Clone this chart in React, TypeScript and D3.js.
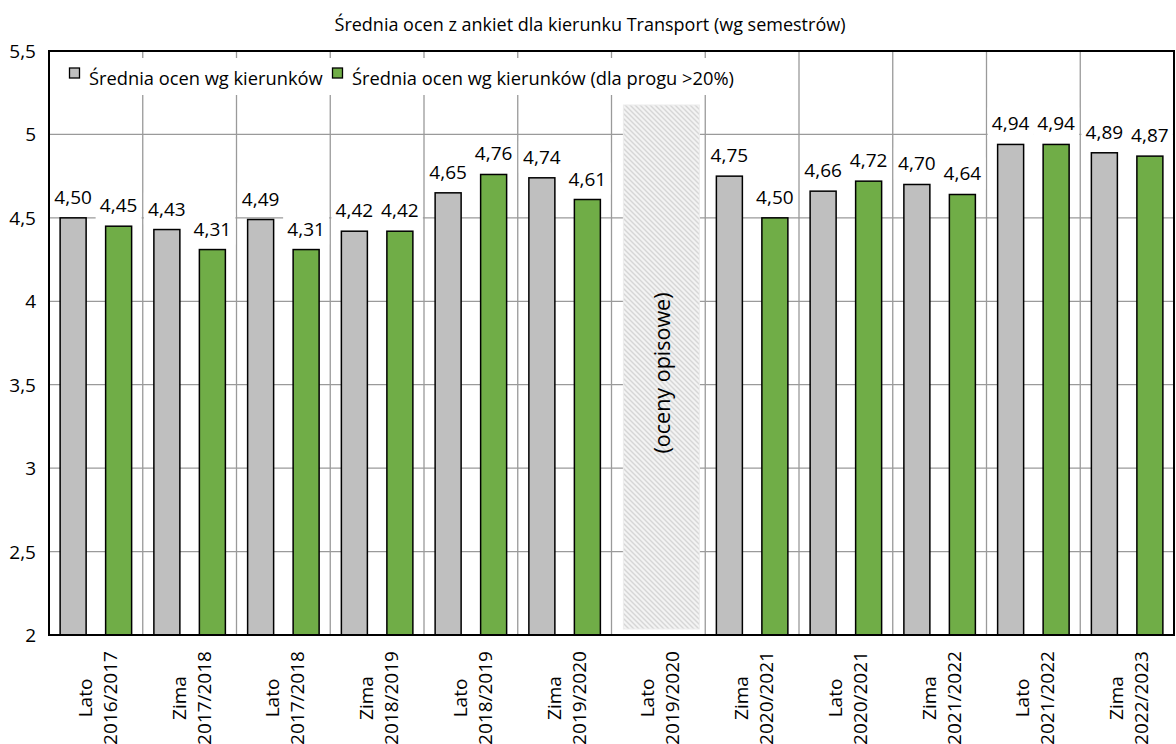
import React from "react";
import * as d3 from "d3";

const TITLE = "Średnia ocen z ankiet dla kierunku Transport (wg semestrów)";
const seasons = ["Lato", "Zima", "Lato", "Zima", "Lato", "Zima", "Lato", "Zima", "Lato", "Zima", "Lato", "Zima"];
const years = ["2016/2017", "2017/2018", "2017/2018", "2018/2019", "2018/2019", "2019/2020", "2019/2020", "2020/2021", "2020/2021", "2021/2022", "2021/2022", "2022/2023"];
const seriesNames = ["Średnia ocen wg kierunków", "Średnia ocen wg kierunków (dla progu >20%)"];
const grayValues: (number | null)[] = [4.5, 4.43, 4.49, 4.42, 4.65, 4.74, null, 4.75, 4.66, 4.7, 4.94, 4.89];
const greenValues: (number | null)[] = [4.45, 4.31, 4.31, 4.42, 4.76, 4.61, null, 4.5, 4.72, 4.64, 4.94, 4.87];
const yTicks = [2, 2.5, 3, 3.5, 4, 4.5, 5, 5.5];
const missingIndex = 6;
const missingText = "(oceny opisowe)";

const W = 1176;
const H = 744;
const L = 49;
const R = 1174;
const T = 51;
const B = 635;
const FONT = "'Open Sans', sans-serif";
const colors = ["#bfbfbf", "#70ad47"];

const fmt = (v: number) => v.toFixed(2).replace(".", ",");
const fmtTick = (v: number) => String(v).replace(".", ",");

export default function App() {
  const keys = seasons.map((_, i) => String(i));
  const x = d3.scaleBand().domain(keys).range([L, R]).paddingInner(0).paddingOuter(0);
  const bw = x.bandwidth();
  const xs = d3.scaleBand().domain(["0", "1"]).range([0, bw]).paddingInner(0.4286).paddingOuter(0.2445);
  const y = d3.scaleLinear().domain([2, 5.5]).range([B, T]);
  const series = [grayValues, greenValues];

  return (
    <svg width={W} height={H} style={{ position: "absolute", left: 0, top: 0, background: "#fff" }} fontFamily={FONT}>
      <defs>
        <pattern id="hatch" patternUnits="userSpaceOnUse" width="5" height="5">
          <rect width="5" height="5" fill="#f3f3f3" />
          <path d="M0,0 L5,5 M-1,4 L1,6 M4,-1 L6,1" stroke="#d6d6d6" strokeWidth="1.4" />
        </pattern>
      </defs>
      <rect x={0} y={0} width={W} height={H} fill="#fff" />
      <text x={590} y={24} textAnchor="middle" dominantBaseline="central" fontSize={18} fill="#000">{TITLE}</text>

      {/* horizontal gridlines */}
      {yTicks.filter((t) => t > 2 && t < 5.5).map((t) => (
        <line key={"h" + t} x1={L} x2={R} y1={y(t)} y2={y(t)} stroke="#9a9a9a" strokeWidth={1.3} />
      ))}
      {/* vertical gridlines */}
      {keys.slice(1).map((k) => (
        <line key={"v" + k} x1={x(k)!} x2={x(k)!} y1={T} y2={B} stroke="#9a9a9a" strokeWidth={1.3} />
      ))}

      {/* missing data hatched area */}
      {(() => {
        const cx = x(String(missingIndex))! + bw / 2 + 3;
        return (
          <g>
            <rect x={cx - 38} y={105} width={76} height={y(2) - 6 - 105} fill="url(#hatch)" stroke="#ececec" strokeWidth={1} />
            <text x={cx} y={373} textAnchor="middle" dominantBaseline="central" fontSize={21.5} transform={`rotate(-90, ${cx}, 373)`} fill="#000">{missingText}</text>
          </g>
        );
      })()}

      {/* bars */}
      {series.map((vals, si) =>
        vals.map((v, i) =>
          v == null ? null : (
            <rect key={`b${si}-${i}`} x={x(String(i))! + xs(String(si))!} y={y(v)} width={xs.bandwidth()} height={y(2) - y(v)} fill={colors[si]} stroke="#000" strokeWidth={1.5} />
          )
        )
      )}

      {/* data labels */}
      {series.map((vals, si) =>
        vals.map((v, i) => {
          if (v == null) return null;
          const cx = x(String(i))! + xs(String(si))! + xs.bandwidth() / 2;
          const cy = y(v) - 21;
          return (
            <g key={`l${si}-${i}`}>
              <rect x={cx - 23} y={cy - 16} width={46} height={32} fill="#fff" />
              <text x={cx} y={cy} textAnchor="middle" dominantBaseline="central" fontSize={19} fill="#000">{fmt(v)}</text>
            </g>
          );
        })
      )}

      {/* legend */}
      <rect x={62} y={58} width={680} height={37} fill="#fff" />
      <rect x={69.5} y={68} width={10} height={10} fill={colors[0]} stroke="#000" strokeWidth={1.3} />
      <text x={89} y={77} dominantBaseline="central" fontSize={18.3} fill="#000">{seriesNames[0]}</text>
      <rect x={332.5} y={68} width={10} height={10} fill={colors[1]} stroke="#000" strokeWidth={1.3} />
      <text x={352} y={77} dominantBaseline="central" fontSize={18.3} fill="#000">{seriesNames[1]}</text>

      {/* plot border */}
      <rect x={L} y={T} width={R - L} height={B - T} fill="none" stroke="#000" strokeWidth={2} />

      {/* y tick labels */}
      {yTicks.map((t) => (
        <text key={"yt" + t} x={36} y={y(t)} textAnchor="end" dominantBaseline="central" fontSize={19} fill="#000">{fmtTick(t)}</text>
      ))}

      {/* x labels */}
      {keys.map((k, i) => {
        const cx = x(k)! + bw / 2;
        return (
          <g key={"xl" + k}>
            <text x={cx - 11} y={698} textAnchor="middle" dominantBaseline="central" fontSize={19} transform={`rotate(-90, ${cx - 11}, 698)`} fill="#000">{seasons[i]}</text>
            <text x={cx + 14} y={698} textAnchor="middle" dominantBaseline="central" fontSize={19} transform={`rotate(-90, ${cx + 14}, 698)`} fill="#000">{years[i]}</text>
          </g>
        );
      })}
    </svg>
  );
}
